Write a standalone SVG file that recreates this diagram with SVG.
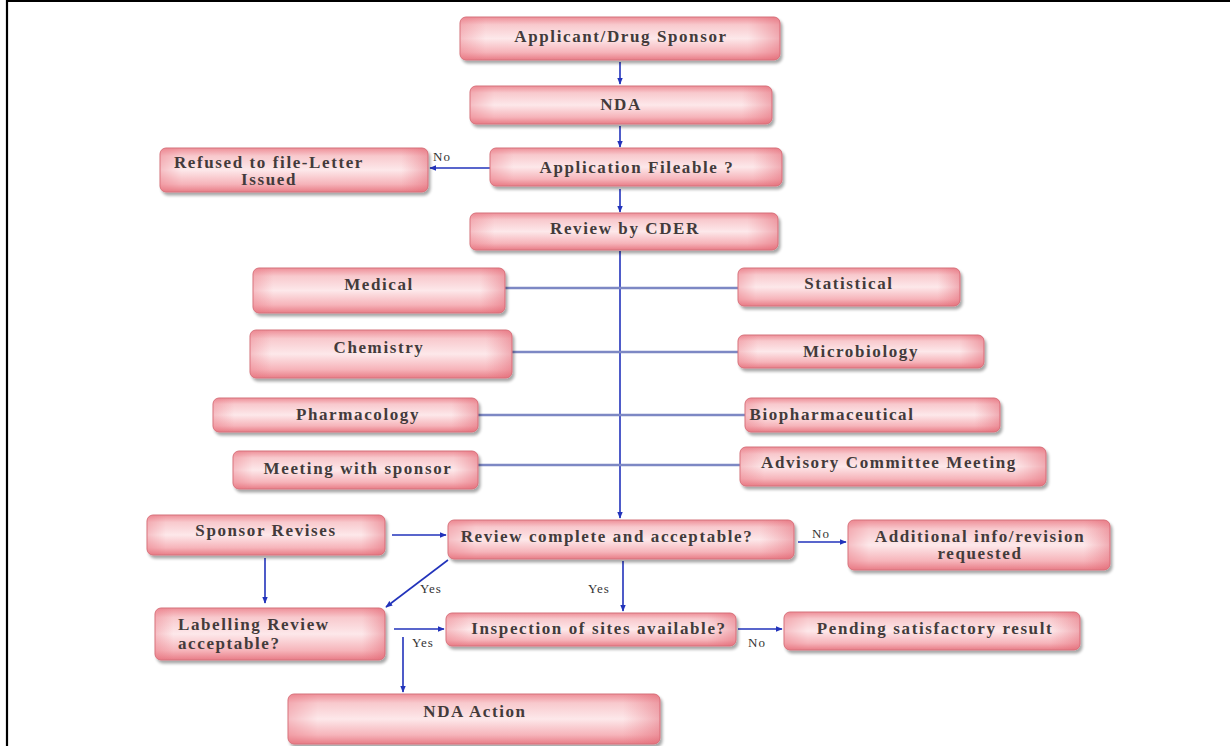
<svg xmlns="http://www.w3.org/2000/svg" width="1230" height="746" viewBox="0 0 1230 746">
  <defs>
    <linearGradient id="boxFill" x1="0" y1="0" x2="0" y2="1">
      <stop offset="0" stop-color="#ee8f98"/>
      <stop offset="0.18" stop-color="#f8c9cd"/>
      <stop offset="0.5" stop-color="#fde8ea"/>
      <stop offset="0.82" stop-color="#f6b4ba"/>
      <stop offset="1" stop-color="#e87d87"/>
    </linearGradient>
    <linearGradient id="edgeShade" x1="0" y1="0" x2="1" y2="0">
      <stop offset="0" stop-color="#e8717d" stop-opacity="0.35"/>
      <stop offset="0.08" stop-color="#e8717d" stop-opacity="0"/>
      <stop offset="0.9" stop-color="#e8717d" stop-opacity="0"/>
      <stop offset="1" stop-color="#e05f6d" stop-opacity="0.45"/>
    </linearGradient>
    <filter id="shadow" x="-5%" y="-20%" width="115%" height="150%">
      <feGaussianBlur in="SourceAlpha" stdDeviation="1.6"/>
      <feOffset dx="2" dy="3" result="b"/>
      <feComponentTransfer><feFuncA type="linear" slope="0.35"/></feComponentTransfer>
      <feMerge><feMergeNode/><feMergeNode in="SourceGraphic"/></feMerge>
    </filter>
    <marker id="arrow" viewBox="0 0 10 10" refX="9" refY="5" markerWidth="7" markerHeight="7" orient="auto" markerUnits="userSpaceOnUse">
      <path d="M0,1 L10,5 L0,9 Z" fill="#2233bb"/>
    </marker>
    <style>
      .box { fill: url(#boxFill); stroke: #d4737c; stroke-width: 1; filter: url(#shadow); }
      .shade { fill: url(#edgeShade); stroke: none; }
      .label { font-family: "Liberation Serif", "Times New Roman", serif; font-size: 17px; letter-spacing: 1.6px; font-weight: bold; fill: #433b3b; text-anchor: middle; dominant-baseline: central; }
      .left { text-anchor: start; }
      .small { font-family: "Liberation Serif", "Times New Roman", serif; font-size: 13px; letter-spacing: 1px; fill: #333; }
      .flow { stroke: #2233bb; stroke-width: 1.6; fill: none; marker-end: url(#arrow); }
      .branch { stroke: #7d88c4; stroke-width: 2.4; fill: none; }
      .frame { stroke: #000; stroke-width: 2.2; fill: none; }
    </style>
  </defs>

  <rect width="1230" height="746" fill="#ffffff"/>
  <!-- outer frame -->
  <path class="frame" d="M7,746 V1 H1230"/>

  <!-- connectors -->
  <g id="connectors">
    <line class="flow" x1="620" y1="62" x2="620" y2="84"/>
    <line class="flow" x1="620" y1="126" x2="620" y2="147"/>
    <line class="flow" x1="490" y1="168" x2="430" y2="168"/>
    <line class="flow" x1="620" y1="189" x2="620" y2="212"/>
    <line class="flow" x1="620" y1="251" x2="620" y2="518"/>
    <line class="branch" x1="505" y1="288" x2="738" y2="288"/>
    <line class="branch" x1="512" y1="352" x2="738" y2="352"/>
    <line class="branch" x1="478" y1="415" x2="745" y2="415"/>
    <line class="branch" x1="478" y1="465" x2="740" y2="465"/>
    <line class="flow" x1="392" y1="535" x2="446" y2="535"/>
    <line class="flow" x1="798" y1="542" x2="846" y2="542"/>
    <line class="flow" x1="265" y1="558" x2="265" y2="603"/>
    <line class="flow" x1="448" y1="560" x2="386" y2="607"/>
    <line class="flow" x1="623" y1="561" x2="623" y2="611"/>
    <line class="flow" x1="394" y1="629" x2="444" y2="629"/>
    <line class="flow" x1="738" y1="629" x2="782" y2="629"/>
    <line class="flow" x1="403" y1="637" x2="403" y2="692"/>
    <text class="small" x="433" y="161">No</text>
    <text class="small" x="812" y="538">No</text>
    <text class="small" x="420" y="593">Yes</text>
    <text class="small" x="588" y="593">Yes</text>
    <text class="small" x="412" y="647">Yes</text>
    <text class="small" x="748" y="647">No</text>
  </g>

  <g id="applicant">
    <rect class="box" x="460" y="17" width="320" height="43" rx="6"/>
    <rect class="shade" x="460" y="17" width="320" height="43" rx="6"/>
    <text class="label" x="621" y="36">Applicant/Drug Sponsor</text>
  </g>
  <g id="nda">
    <rect class="box" x="470" y="86" width="302" height="38" rx="6"/>
    <rect class="shade" x="470" y="86" width="302" height="38" rx="6"/>
    <text class="label" x="621" y="104">NDA</text>
  </g>
  <g id="fileable">
    <rect class="box" x="490" y="148" width="292" height="38" rx="6"/>
    <rect class="shade" x="490" y="148" width="292" height="38" rx="6"/>
    <text class="label" x="637" y="167">Application Fileable ?</text>
  </g>
  <g id="refused">
    <rect class="box" x="160" y="148" width="268" height="44" rx="6"/>
    <rect class="shade" x="160" y="148" width="268" height="44" rx="6"/>
    <text class="label" x="269" y="162">Refused to file-Letter</text>
    <text class="label" x="269" y="179">Issued</text>
  </g>
  <g id="cder">
    <rect class="box" x="470" y="213" width="308" height="37" rx="6"/>
    <rect class="shade" x="470" y="213" width="308" height="37" rx="6"/>
    <text class="label" x="625" y="228">Review by CDER</text>
  </g>

  <g id="medical">
    <rect class="box" x="253" y="268" width="252" height="45" rx="6"/>
    <rect class="shade" x="253" y="268" width="252" height="45" rx="6"/>
    <text class="label" x="379" y="284">Medical</text>
  </g>
  <g id="statistical">
    <rect class="box" x="738" y="268" width="222" height="38" rx="6"/>
    <rect class="shade" x="738" y="268" width="222" height="38" rx="6"/>
    <text class="label" x="849" y="283">Statistical</text>
  </g>
  <g id="chemistry">
    <rect class="box" x="250" y="330" width="262" height="48" rx="6"/>
    <rect class="shade" x="250" y="330" width="262" height="48" rx="6"/>
    <text class="label" x="379" y="347">Chemistry</text>
  </g>
  <g id="microbiology">
    <rect class="box" x="738" y="335" width="246" height="33" rx="6"/>
    <rect class="shade" x="738" y="335" width="246" height="33" rx="6"/>
    <text class="label" x="861" y="351">Microbiology</text>
  </g>
  <g id="pharmacology">
    <rect class="box" x="213" y="398" width="265" height="34" rx="6"/>
    <rect class="shade" x="213" y="398" width="265" height="34" rx="6"/>
    <text class="label" x="358" y="414">Pharmacology</text>
  </g>
  <g id="biopharmaceutical">
    <rect class="box" x="745" y="398" width="255" height="34" rx="6"/>
    <rect class="shade" x="745" y="398" width="255" height="34" rx="6"/>
    <text class="label" x="832" y="414">Biopharmaceutical</text>
  </g>
  <g id="meeting">
    <rect class="box" x="233" y="451" width="245" height="38" rx="6"/>
    <rect class="shade" x="233" y="451" width="245" height="38" rx="6"/>
    <text class="label" x="358" y="468">Meeting with sponsor</text>
  </g>
  <g id="advisory">
    <rect class="box" x="740" y="447" width="306" height="39" rx="6"/>
    <rect class="shade" x="740" y="447" width="306" height="39" rx="6"/>
    <text class="label" x="889" y="462">Advisory Committee Meeting</text>
  </g>

  <g id="sponsor-revises">
    <rect class="box" x="147" y="515" width="238" height="40" rx="6"/>
    <rect class="shade" x="147" y="515" width="238" height="40" rx="6"/>
    <text class="label" x="266" y="530">Sponsor Revises</text>
  </g>
  <g id="review-complete">
    <rect class="box" x="448" y="520" width="346" height="39" rx="6"/>
    <rect class="shade" x="448" y="520" width="346" height="39" rx="6"/>
    <text class="label" x="607" y="536">Review complete and acceptable?</text>
  </g>
  <g id="additional-info">
    <rect class="box" x="848" y="520" width="262" height="50" rx="6"/>
    <rect class="shade" x="848" y="520" width="262" height="50" rx="6"/>
    <text class="label" x="980" y="536">Additional info/revision</text>
    <text class="label" x="980" y="553">requested</text>
  </g>
  <g id="labelling">
    <rect class="box" x="155" y="608" width="230" height="52" rx="6"/>
    <rect class="shade" x="155" y="608" width="230" height="52" rx="6"/>
    <text class="label left" x="178" y="624">Labelling Review</text>
    <text class="label left" x="178" y="643">acceptable?</text>
  </g>
  <g id="inspection">
    <rect class="box" x="446" y="613" width="290" height="33" rx="6"/>
    <rect class="shade" x="446" y="613" width="290" height="33" rx="6"/>
    <text class="label" x="599" y="628">Inspection of sites available?</text>
  </g>
  <g id="pending">
    <rect class="box" x="784" y="612" width="296" height="38" rx="6"/>
    <rect class="shade" x="784" y="612" width="296" height="38" rx="6"/>
    <text class="label" x="935" y="628">Pending satisfactory result</text>
  </g>
  <g id="nda-action">
    <rect class="box" x="288" y="694" width="372" height="50" rx="6"/>
    <rect class="shade" x="288" y="694" width="372" height="50" rx="6"/>
    <text class="label" x="475" y="711">NDA Action</text>
  </g>
</svg>
